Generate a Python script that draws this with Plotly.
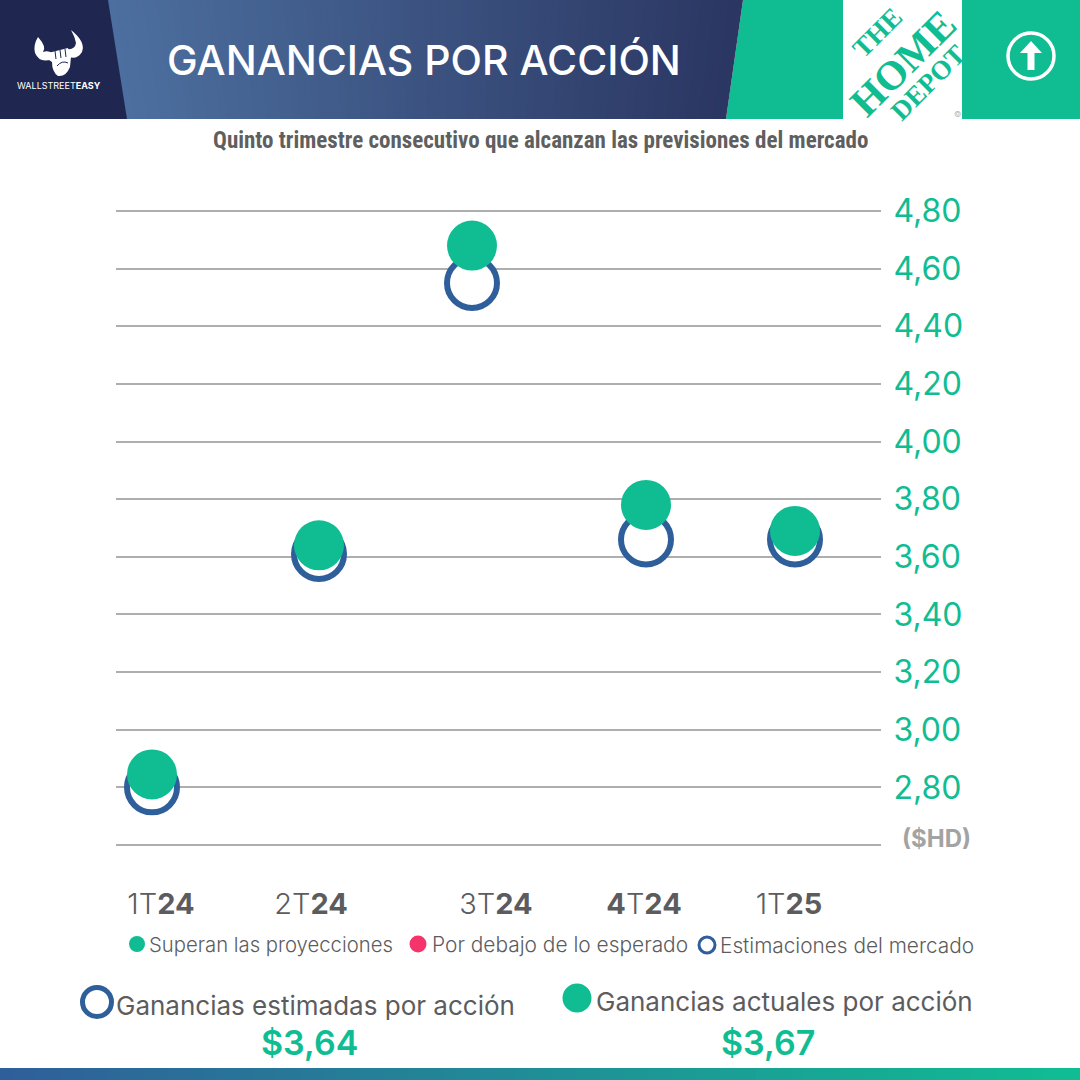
import plotly.graph_objects as go

# ---- data ----
quarters = ["1T<b>24</b>", "2T<b>24</b>", "3T<b>24</b>", "<b>4</b>T<b>24</b>", "1T<b>25</b>"]
point_x = [36, 203, 356, 530, 679]
label_x = [45, 195, 380, 528, 673]
actual_eps = [2.845, 3.64, 4.68, 3.78, 3.69]
estimated_eps = [2.80, 3.61, 4.55, 3.66, 3.66]
y_ticks = [2.6, 2.8, 3.0, 3.2, 3.4, 3.6, 3.8, 4.0, 4.2, 4.4, 4.6, 4.8]
y_labels = ["", "2,80", "3,00", "3,20", "3,40", "3,60", "3,80", "4,00", "4,20", "4,40", "4,60", "4,80"]
title = "GANANCIAS POR ACCIÓN"
subtitle = "Quinto trimestre consecutivo que alcanzan las previsiones del mercado"
legend_items = ["Superan las proyecciones", "Por debajo de lo esperado", "Estimaciones del mercado"]
summary_labels = ["Ganancias estimadas por acción", "Ganancias actuales por acción"]
summary_values = ["$3,64", "$3,67"]

# ---- style ----
W = 1080
GREEN = "#10bd93"
BLUE = "#2f5f9a"
PINK = "#f5346b"
GRID = "#aeaeae"
TEXT = "#5c5c5e"
FONT = "Inter"


def X(x):
    return x / W


def Y(y):
    return 1 - y / W


def poly(pts, fill, layer="below"):
    d = "M" + " L".join(f"{X(a):.5f},{Y(b):.5f}" for a, b in pts) + " Z"
    return dict(type="path", xref="paper", yref="paper", path=d, fillcolor=fill,
                line=dict(width=0), layer=layer)


def curve(d, fill="white", line=None, width=0):
    out = []
    for tok in d.split():
        if tok[0].isalpha():
            out.append(tok[0])
            tok = tok[1:]
        if tok:
            a, b = tok.split(",")
            out.append(f"{X(float(a)):.5f},{Y(float(b)):.5f}")
    return dict(type="path", xref="paper", yref="paper", path=" ".join(out), fillcolor=fill,
                line=dict(width=width, color=line or fill), layer="above")


def circle(cx, cy, r, fill, line=None, width=0):
    return dict(type="circle", xref="paper", yref="paper", x0=X(cx - r), x1=X(cx + r),
                y0=Y(cy + r), y1=Y(cy - r), fillcolor=fill,
                line=dict(width=width, color=line or fill), layer="above")


def mix(c1, c2, t):
    a = [int(c1[i:i + 2], 16) for i in (1, 3, 5)]
    b = [int(c2[i:i + 2], 16) for i in (1, 3, 5)]
    return "rgb(" + ",".join(str(round(p + (q - p) * t)) for p, q in zip(a, b)) + ")"


def text(s, x, y, size, color=TEXT, anchor="left", family=FONT, angle=0, weight=None):
    f = dict(size=size, color=color, family=family)
    if weight:
        f["weight"] = weight
    return dict(text=s, x=X(x), y=Y(y), xref="paper", yref="paper", xanchor=anchor, yanchor="middle",
                showarrow=False, font=f, textangle=angle)


shapes = []
shapes.append(poly([(0, 0), (110, 0), (128, 119), (0, 119)], "#1f2750"))
shapes.append(poly([(743, 0), (W, 0), (W, 119), (726, 119)], GREEN))
shapes.append(poly([(843, 0), (962, 0), (962, 119), (843, 119)], "#ffffff"))
N = 90
for i in range(N):
    t0, t1 = i / N, (i + 1.4) / N
    t1 = min(t1, 1)
    top = lambda t: 108 + (743 - 108) * t
    bot = lambda t: 127 + (726 - 127) * t
    shapes.append(poly([(top(t0), 0), (top(t1), 0), (bot(t1), 119), (bot(t0), 119)],
                       mix("#4c6f9f", "#2b3662", i / (N - 1))))
for i in range(N):
    x0 = W * i / N
    x1 = min(W, W * (i + 1.4) / N)
    shapes.append(poly([(x0, 1068), (x1, 1068), (x1, 1080), (x0, 1080)],
                       mix("#2f5f9a", GREEN, i / (N - 1))))

# bull mark
shapes += [
    curve("M38,37 Q47,47 43,52 Q48,50 52,53 L52,59 Q40,64 35,53 Q33,45 38,37 Z"),
    curve("M71,30 Q86,42 82,52 Q77,60 69,57 L67,49 Q75,50 76,43 Q75,37 71,30 Z"),
    curve("M48,53 L68,48 L71,57 L70,67 Q66,77 58,76 Q52,72 52,62 L49,60 Z"),
    curve("M55,51 L56,59 M60,50 L61,58 M65,49 L66,57", fill="rgba(0,0,0,0)", line="#1f2750", width=1),
    curve("M57,66 Q62,60 68,63", fill="rgba(0,0,0,0)", line="#1f2750", width=1),
]
# arrow icon
shapes += [
    circle(1031, 56, 23, "rgba(0,0,0,0)", "white", 3.5),
    curve("M1031,41 L1042,53 L1034.5,53 L1034.5,70 L1027.5,70 L1027.5,53 L1020,53 Z"),
]
# legend + summary markers
shapes += [
    circle(137, 944, 8, GREEN),
    circle(418, 944, 8.5, PINK),
    circle(707, 945, 8, "white", BLUE, 3),
    circle(97, 1002, 14.5, "white", BLUE, 5),
    circle(577, 998, 14.5, GREEN),
]

annotations = [
    text(title, 423.5, 60, 41, "white", "center", weight=500),
    text(subtitle, 540, 141, 23, "#5f5f5f", "center", "Roboto Condensed, DejaVu Sans Condensed, Roboto", weight=700),
    text("WALLSTREET<b>EASY</b>", 59, 85, 9, "white", "center"),
    text("©", 957, 114, 8, "#b8b8b8", "center"),
    text("<b>THE</b>", 877, 33, 27, GREEN, "center", "Liberation Serif", -45),
    text("<b>HOME</b>", 903, 63, 41, GREEN, "center", "Liberation Serif", -45),
    text("<b>DEPOT</b>", 928, 83, 27, GREEN, "center", "Liberation Serif", -45),
    text("($HD)", 936, 838, 24, "#a3a3a3", "center", weight=700),
    text(legend_items[0], 147, 944, 20.3, TEXT, "left", weight=300),
    text(legend_items[1], 430, 944, 20.9, TEXT, "left", weight=300),
    text(legend_items[2], 718, 945, 20.8, TEXT, "left", weight=300),
    text(summary_labels[0], 114, 1005, 26, TEXT, "left"),
    text(summary_labels[1], 594, 1001, 26, TEXT, "left"),
    text(summary_values[0], 309, 1042, 34, GREEN, "center", weight=600),
    text(summary_values[1], 768, 1042, 34, GREEN, "center", weight=600),
]

fig = go.Figure()
fig.add_trace(go.Scatter(x=point_x, y=estimated_eps, mode="markers", name=legend_items[2],
                         marker=dict(size=50, color="white", line=dict(color=BLUE, width=6))))
fig.add_trace(go.Scatter(x=point_x, y=actual_eps, mode="markers", name=legend_items[0],
                         marker=dict(size=50, color=GREEN, line=dict(width=0))))

PLOT_TOP, PLOT_BOT = 200, 860
PX_PER_UNIT = 288
fig.update_layout(
    width=W, height=W, margin=dict(l=0, r=0, t=0, b=0), showlegend=False,
    paper_bgcolor="white", plot_bgcolor="white",
    shapes=shapes, annotations=annotations, hovermode=False,
    xaxis=dict(domain=[116 / W, 881 / W], range=[0, 765], showgrid=False, zeroline=False, showline=False,
               automargin=False,
               tickmode="array", tickvals=label_x, ticktext=quarters, ticks="outside", ticklen=18,
               tickcolor="rgba(0,0,0,0)", tickfont=dict(size=29, color=TEXT, family=FONT, weight=300)),
    yaxis=dict(domain=[1 - PLOT_BOT / W, 1 - PLOT_TOP / W], side="right", automargin=False,
               range=[2.6 - (PLOT_BOT - 845) / PX_PER_UNIT, 4.8 + (211 - PLOT_TOP) / PX_PER_UNIT],
               showgrid=True, gridcolor=GRID, gridwidth=2, zeroline=False, showline=False,
               tickmode="array", tickvals=y_ticks, ticktext=y_labels, ticks="outside", ticklen=5,
               tickcolor="rgba(0,0,0,0)", tickfont=dict(size=32, color=GREEN, family=FONT)),
)
fig.write_html("out.html", post_script="document.body.style.margin='0';",
               config=dict(displayModeBar=False))
